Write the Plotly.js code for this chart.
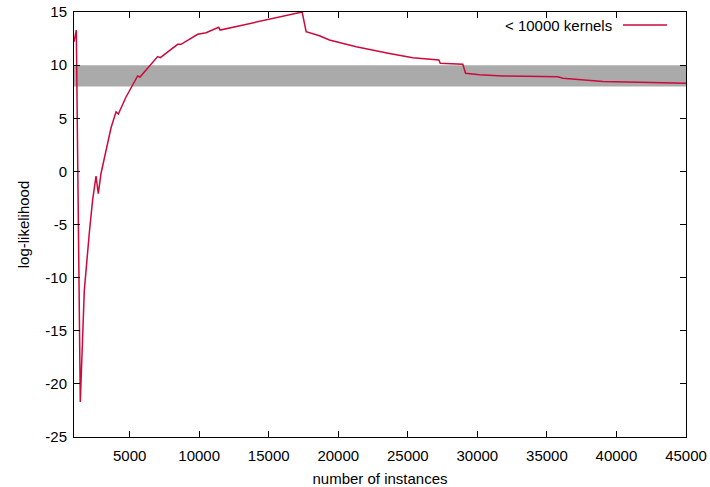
<!DOCTYPE html>
<html>
<head>
<meta charset="utf-8">
<script src="https://cdn.plot.ly/plotly-3.0.1.min.js"></script>
<style>html,body{margin:0;padding:0;background:#fff;}#chart{width:710px;height:487px;}</style>
</head>
<body>
<div id="chart"></div>
<script>
const instances = [1000, 1165, 1453, 1741, 2100, 2338, 2583, 2748, 2942, 3302, 3662, 4022, 4187, 4741, 5216, 5576, 5748, 6417, 7014, 7209, 8453, 8698, 9892, 10496, 11403, 11503, 13000, 15000, 17402, 17690, 18647, 19366, 21287, 23683, 25359, 27230, 27330, 28956, 29150, 30157, 31833, 35790, 36150, 39027, 42624, 45000];
const logLikelihood = [12.2, 13.3, -21.7, -11.2, -5.8, -2.7, -0.44, -2.1, -0.2, 1.85, 4.1, 5.6, 5.4, 7.0, 8.13, 8.98, 8.88, 9.9, 10.8, 10.7, 11.96, 11.96, 12.9, 13.05, 13.56, 13.3, 13.72, 14.3, 15.0, 13.15, 12.77, 12.36, 11.73, 11.1, 10.7, 10.48, 10.17, 10.08, 9.23, 9.1, 8.98, 8.91, 8.76, 8.47, 8.32, 8.29];
const seriesName = "< 10000 kernels";
const bandLow = 8, bandHigh = 10;
const xTicks = [5000, 10000, 15000, 20000, 25000, 30000, 35000, 40000, 45000];
const yTicks = [-25, -20, -15, -10, -5, 0, 5, 10, 15];

const lineColor = "#cc0a3c";
const font = {family: "Liberation Sans, Arial, sans-serif", size: 15, color: "#000"};

Plotly.newPlot("chart", [{
  x: instances, y: logLikelihood, type: "scatter", mode: "lines",
  line: {color: lineColor, width: 1.5}, name: seriesName, showlegend: false
}], {
  width: 710, height: 487,
  margin: {l: 74, r: 24, t: 12, b: 50},
  paper_bgcolor: "#fff", plot_bgcolor: "#fff",
  font: font,
  showlegend: false,
  xaxis: {
    range: [1000, 45000], tickvals: xTicks, ticktext: xTicks.map(String),
    ticks: "inside", ticklen: 6, tickcolor: "#000", tickwidth: 1,
    showline: true, linecolor: "#000", linewidth: 1, mirror: "allticks",
    showgrid: false, zeroline: false, ticklabelstandoff: 5,
    title: {text: "number of instances", font: font, standoff: 10}
  },
  yaxis: {
    range: [-25, 15], tickvals: yTicks, ticktext: yTicks.map(String),
    ticks: "inside", ticklen: 6, tickcolor: "#000", tickwidth: 1,
    showline: true, linecolor: "#000", linewidth: 1, mirror: "allticks",
    showgrid: false, zeroline: false, ticklabelstandoff: 3,
    title: {text: "log-likelihood", font: font, standoff: 12}
  },
  shapes: [
    {type: "rect", xref: "paper", yref: "y", x0: 0, x1: 1, y0: bandLow, y1: bandHigh,
     fillcolor: "#aaaaaa", line: {width: 0}, layer: "below"},
    {type: "line", xref: "paper", yref: "paper", x0: (623-74)/612, x1: (667-74)/612,
     y0: (437-25)/425, y1: (437-25)/425, line: {color: lineColor, width: 1.5}}
  ],
  annotations: [
    {xref: "paper", yref: "paper", x: (614-74)/612, y: (437-25)/425, xanchor: "right", yanchor: "middle",
     text: seriesName.replace("<", "&lt;"), showarrow: false, font: font}
  ]
}, {displayModeBar: false, staticPlot: true});
</script>
</body>
</html>
